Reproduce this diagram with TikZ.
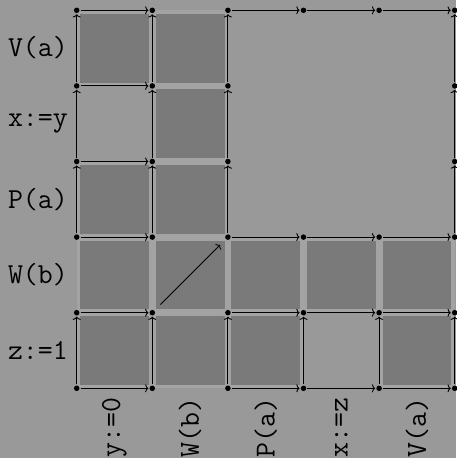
\documentclass[tikz,border=0pt]{standalone}
\usepackage{fontspec}
\usetikzlibrary{arrows.meta}
\definecolor{bgc}{HTML}{999999}
\definecolor{lightc}{HTML}{A3A3A3}
\definecolor{darkc}{HTML}{7A7A7A}
\begin{document}
\begin{tikzpicture}[x=1pt,y=-1pt,
  dot/.style={circle,fill=black,inner sep=0pt,minimum size=5.5pt,outer sep=1.2pt},
  edge/.style={-{To[length=3.2pt,width=8pt]},line width=0.9pt},
  lab/.style={font=\fontsize{29}{31}\selectfont\ttfamily,inner sep=0pt},
  lightcell/.style={fill=lightc},
  darkcell/.style={fill=darkc}]
\fill[bgc] (0,0) rectangle (456,458);
\useasboundingbox (0,0) rectangle (456,458);
% cells
\foreach \c/\r in {0/0,1/0,2/0,4/0,0/1,1/1,2/1,3/1,4/1,0/2,1/2,1/3,0/4,1/4}{
  \fill[lightcell] ({76.7+75.6*\c},{388.3-75.6*\r}) rectangle +(75.6,-75.6);
  \fill[darkcell] ({76.7+75.6*\c+3.4},{388.3-75.6*\r-3.4}) rectangle +(68.8,-68.8);
}
% dots
\foreach \i in {0,...,5}{
  \foreach \j in {0,1,2,5}{
    \node[dot] (d\i\j) at ({76.7+75.6*\i},{388.3-75.6*\j}) {};
  }
}
\foreach \i/\j in {0/3,0/4,1/3,1/4,2/3,2/4,5/3,5/4}{
  \node[dot] (d\i\j) at ({76.7+75.6*\i},{388.3-75.6*\j}) {};
}
% vertical edges
\foreach \i in {0,1,2,5}{
  \foreach \j/\k in {0/1,2/3,3/4,4/5}{
    \draw[edge] (d\i\j) -- (d\i\k);
  }
}
\foreach \i in {3,4}{\draw[edge] (d\i0) -- (d\i1);}
% horizontal edges
\foreach \j in {0,1,2,5}{
  \foreach \i/\k in {0/1,2/3,3/4,4/5}{
    \draw[edge] (d\i\j) -- (d\k\j);
  }
}
\foreach \j in {3,4}{\draw[edge] (d0\j) -- (d1\j);}
% diagonal
\draw[edge,line width=0.8pt,shorten <=7.5pt,shorten >=7pt] (d11) -- (d22);
% row labels
\node[lab,anchor=east] (r0) at (68,{388.3-75.6*0.5}) {z:=1};
\node[lab,anchor=east] (r1) at (68,{388.3-75.6*1.5}) {W(b)};
\node[lab,anchor=east] (r2) at (68,{388.3-75.6*2.5}) {P(a)};
\node[lab,anchor=east] (r3) at (68,{388.3-75.6*3.5}) {x:=y};
\node[lab,anchor=east] (r4) at (68,{388.3-75.6*4.5}) {V(a)};
% column labels
\node[lab,rotate=90,anchor=east] (c0) at ({76.7+75.6*0.5},397.5) {y:=0};
\node[lab,rotate=90,anchor=east] (c1) at ({76.7+75.6*1.5},397.5) {W(b)};
\node[lab,rotate=90,anchor=east] (c2) at ({76.7+75.6*2.5},397.5) {P(a)};
\node[lab,rotate=90,anchor=east] (c3) at ({76.7+75.6*3.5},397.5) {x:=z};
\node[lab,rotate=90,anchor=east] (c4) at ({76.7+75.6*4.5},397.5) {V(a)};
\end{tikzpicture}
\end{document}
